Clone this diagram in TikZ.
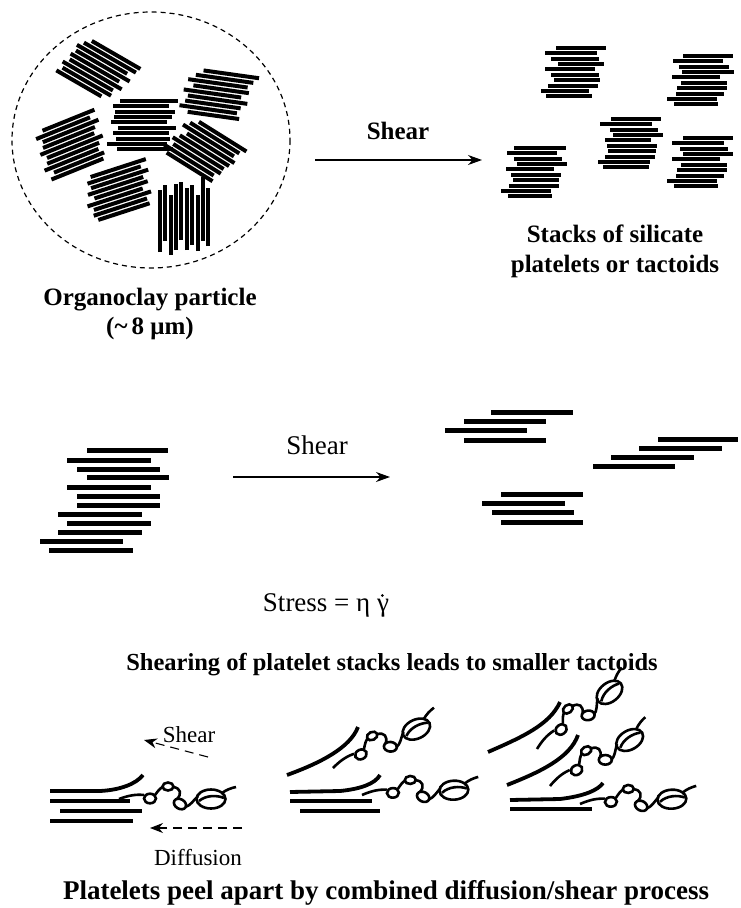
\documentclass[tikz,border=0pt]{standalone}
\usepackage{fontspec}
\setmainfont{Liberation Serif}
\usetikzlibrary{arrows.meta}
\tikzset{every node/.style={inner sep=0pt},
  platelet/.style={line width=4pt},
  flake/.style={line width=5pt},
  peel/.style={line width=3.8pt},
  polymer/.style={line width=2.6pt},
  caption/.style={font=\bfseries\fontsize{25}{30}\selectfont, align=center},
  tag/.style={font=\fontsize{27}{32}\selectfont},
  small tag/.style={font=\fontsize{23}{27}\selectfont},
  shear arrow/.style={line width=1.1pt, -{Stealth[length=14pt,width=10pt]}},
  flow arrow/.style={line width=1.1pt, dash pattern=on 9pt off 6pt, -{Stealth[length=13pt,width=10pt]}},
  pics/chain/.style={code={
    % tail, small loops, curl and the big end loop of a surfactant chain
    \draw[polymer] (0,0) .. controls (8,-3) and (16,-5) .. (25,-4);
    \draw[polymer] (31,-0.5) ellipse [x radius=6, y radius=4.8];
    \draw[polymer] (36,-4) .. controls (39,-8) and (41,-11) .. (44,-12);
    \draw[polymer] (49,-12.5) ellipse [x radius=5.5, y radius=4];
    \draw[polymer] (54,-12) .. controls (62,-11) and (63,-5) .. (58,0);
    \draw[polymer, rotate around={-30:(61,5)}] (61,5) ellipse [x radius=6.5, y radius=4.8];
    \draw[polymer] (66,8) .. controls (71,7) and (74,2) .. (79,-3);
    \draw[polymer] (92,0) ellipse [x radius=14.5, y radius=9.5];
    \draw[polymer] (80,2) .. controls (87,-4) and (98,-4) .. (105,-1);
    \draw[polymer] (103,-6) .. controls (107,-9) and (112,-11) .. (117,-12);}}}

% a tactoid: centre, tilt, list of shift/length per platelet
\newcommand\tactoid[4]{%
  \begin{scope}[shift={(#1,#2)},rotate=#3]
    \foreach \dx/\len [count=\i] in {#4}
      \draw[platelet] ({\dx-\len/2},{(\i-5.5)*5.4}) -- ++(\len,0);
  \end{scope}}

\begin{document}
\begin{tikzpicture}[x=1pt,y=-1pt]
   \useasboundingbox (0,0) rectangle (740,908);

   % organoclay particle
   \draw[line width=1.2pt, dash pattern=on 5pt off 4pt] (151,140) ellipse [x radius=139, y radius=128];
   \tactoid{97}{72}{-30}{8/56, 4/60, -2/58, 2/62, -4/56, 0/60, -6/58, -4/56, -10/52}
   \tactoid{218}{97}{-8}{10/56, 4/58, -2/60, 2/56, -6/58, 0/60, -4/56, -8/58, -2/52}
   \tactoid{143}{125}{0}{6/58, -2/56, 2/60, 0/58, -4/56, 4/58, -2/56, 0/54, -6/60, 2/56}
   \tactoid{72}{145}{22}{6/56, -2/58, 4/60, 0/56, -4/58, 2/60, -2/56, -6/58, 0/54, -4/56}
   \tactoid{203}{153}{-32}{8/56, 2/58, -2/60, 4/56, 0/58, -4/60, -2/56, -8/58, -4/54}
   \tactoid{120}{193}{18}{6/58, 0/56, 4/60, -2/58, 2/56, -6/58, 0/60, -4/56, -2/54}
   \tactoid{184}{217}{90}{-4/62, 4/56, -8/60, 0/66, 6/58, -2/62, 2/60, -6/56, 8/64, 0/58}
   \node[caption] (particle) at (150,300) {Organoclay particle};
   \node[caption] (size) at (150,328) {(\textasciitilde\,8 μm)};

   % first shear step
   \coordinate (s1) at (315,160);
   \coordinate (e1) at (482,160);
   \draw[shear arrow] (s1) -- (e1);
   \node[caption] (shear1) at (398,131) {Shear};

   \tactoid{573}{72}{0}{8/50, -2/52, 2/48, 8/46, -3/50, 2/48, 4/46, 0/50, -8/48, -4/46}
   \tactoid{700}{80}{0}{8/50, -2/50, 4/50, 8/52, -4/48, 4/46, 2/50, 0/48, -8/50, -4/44}
   \tactoid{630}{143}{0}{6/50, -4/52, 4/48, 8/50, -2/46, 2/50, 2/48, 0/50, -6/52, -4/46}
   \tactoid{700}{162}{0}{8/50, -2/52, 4/48, 8/50, -4/48, 4/46, 2/50, 0/48, -8/50, -4/44}
   \tactoid{534}{172}{0}{6/52, -2/50, 4/48, 8/50, -4/48, 2/50, 2/46, 0/50, -8/50, -4/44}
   \node[caption] (tactoids) at (615,251) {Stacks of silicate\\platelets or tactoids};

   % second shear step
   \foreach \xa/\xb/\y in {87/168/450, 67/151/460, 77/160/469, 87/169/477, 67/151/487, 77/160/496,
                          77/160/505, 58/142/514, 67/151/523, 58/142/532, 40/123/541, 49/133/550}
     \draw[flake] (\xa,\y) -- (\xb,\y);
   \coordinate (s2) at (233,477);
   \coordinate (e2) at (390,477);
   \draw[shear arrow] (s2) -- (e2);
   \node[tag] (shear2) at (317,445) {Shear};
   \node[tag] (stress) at (326,605) {Stress = η γ};
   \fill ([shift={(-6.8pt,-2.5pt)}]stress.north east) circle (1.5pt);
   \foreach \xa/\xb/\y in {491/573/412, 464/546/421, 445/527/430, 464/546/440,
                          658/738/439, 639/722/448, 611/694/457, 593/675/466,
                          501/583/494, 482/565/503, 492/574/512, 501/583/522}
     \draw[flake] (\xa,\y) -- (\xb,\y);
   \node[caption, font=\bfseries\fontsize{24.5}{29}\selectfont] (smaller) at (392,665) {Shearing of platelet stacks leads to smaller tactoids};

   % peeling by diffusion and shear
   \draw[peel] (50,791) -- (100,791) .. controls (120,790) and (136,784) .. (143,775);
   \draw[peel] (50,801) -- (130,801);
   \draw[peel] (60,811) -- (142,811);
   \draw[peel] (50,821) -- (133,821);
   \pic at (119,799) {chain};
   \coordinate (s3) at (208,757);
   \coordinate (e3) at (144,740);
   \draw[flow arrow] (s3) -- (e3);
   \node[small tag, fill=white, inner sep=1pt] (shear3) at (189,735) {Shear};
   \coordinate (s4) at (242,828);
   \coordinate (e4) at (150,828);
   \draw[flow arrow] (s4) -- (e4);
   \node[small tag] (diffusion) at (198,858) {Diffusion};

   \draw[peel] (287,775) .. controls (320,763) and (350,748) .. (358,727);
   \pic[rotate=25] at (333,768) {chain};
   \draw[peel] (290,792) -- (340,791) .. controls (360,789) and (375,784) .. (380,775);
   \pic[rotate=3] at (362,795) {chain};
   \draw[peel] (290,801) -- (372,801);
   \draw[peel] (300,811) -- (380,811);

   \draw[peel] (488,752) .. controls (520,738) and (550,725) .. (560,702);
   \pic[rotate=38] at (537,749) {chain};
   \draw[peel] (507,785) .. controls (540,772) and (570,758) .. (578,735);
   \pic[rotate=30] at (550,786) {chain};
   \draw[peel] (510,800) -- (560,799) .. controls (585,796) and (598,790) .. (603,783);
   \pic[rotate=3] at (580,804) {chain};
   \draw[peel] (510,809) -- (592,809);
   \node[caption, font=\bfseries\fontsize{27}{32}\selectfont] (peeling) at (386,893) {Platelets peel apart by combined diffusion/shear process};
\end{tikzpicture}
\end{document}
